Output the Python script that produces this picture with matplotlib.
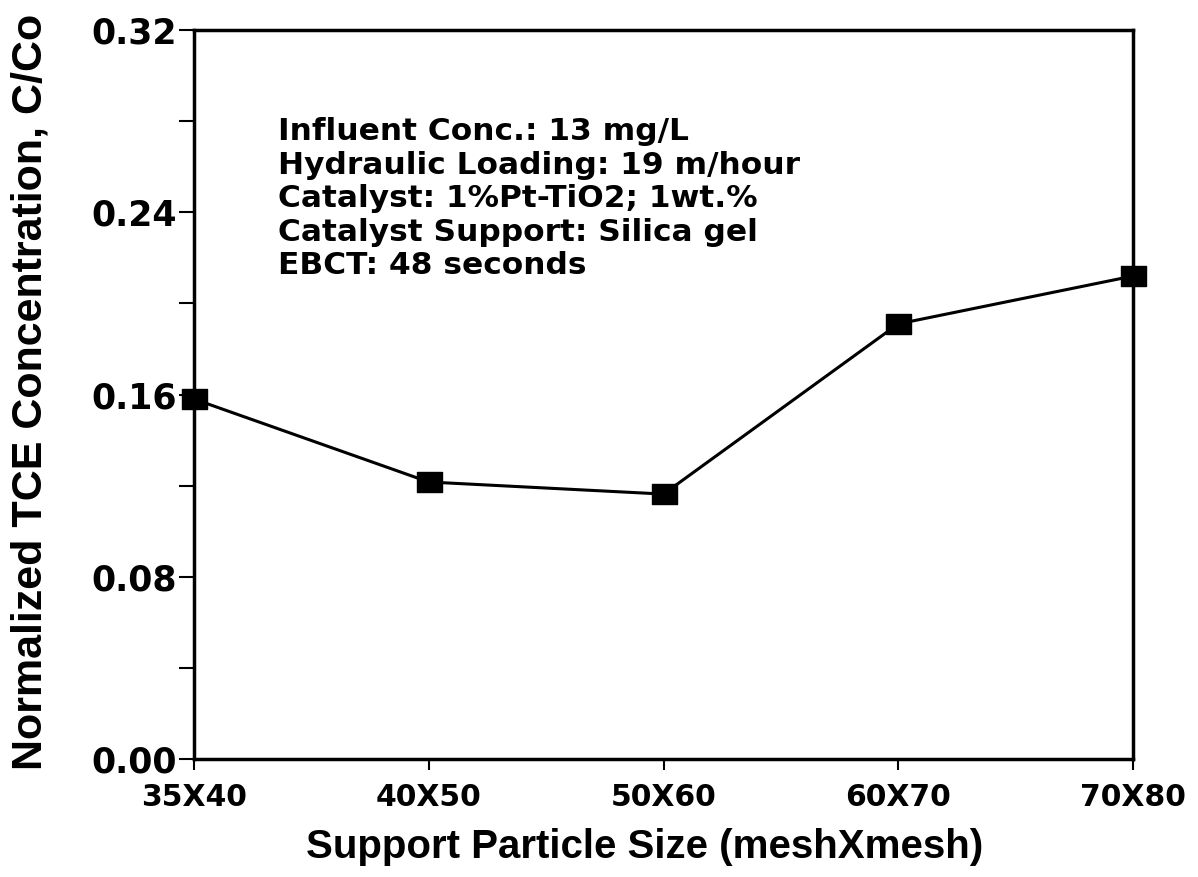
import matplotlib
matplotlib.use("Agg")
import matplotlib.pyplot as plt
from matplotlib.path import Path
import numpy as np

categories = ["35X40", "40X50", "50X60", "60X70", "70X80"]
values = [0.158, 0.1216, 0.1163, 0.191, 0.212]
major_ticks = [0.00, 0.08, 0.16, 0.24, 0.32]
minor_ticks = [0.04, 0.12, 0.20, 0.28]
annotation_lines = [
    "Influent Conc.: 13 mg/L",
    "Hydraulic Loading: 19 m/hour",
    "Catalyst: 1%Pt-TiO2; 1wt.%",
    "Catalyst Support: Silica gel",
    "EBCT: 48 seconds",
]

plt.rcParams['font.family'] = ['DejaVu Sans']
plt.rcParams['font.weight'] = 'bold'
label_font = ['Liberation Sans', 'DejaVu Sans']

fig = plt.figure(figsize=(11.98, 8.77), dpi=100)
ax = fig.add_axes([0.162, 0.1345, 0.7837, 0.8313])

rect = Path([(-1.3, -1), (1.3, -1), (1.3, 1), (-1.3, 1), (-1.3, -1)],
            [Path.MOVETO, Path.LINETO, Path.LINETO, Path.LINETO, Path.CLOSEPOLY])
x = np.arange(len(categories))
ax.plot(x, values, color='black', lw=2.2, marker=rect, markersize=18,
        markerfacecolor='black', markeredgecolor='black', clip_on=False, zorder=5)

ax.set_xlim(0, len(categories) - 1)
ax.set_ylim(0, 0.32)
ax.set_xticks(x)
ax.set_xticklabels(categories, fontsize=21.5, fontweight='bold')
ax.set_yticks(major_ticks)
ax.set_yticklabels([f"{v:.2f}" for v in major_ticks], fontsize=25, fontweight='bold')
ax.set_yticks(minor_ticks, minor=True)
ax.tick_params(axis='y', which='both', direction='out', length=11, width=1.5, pad=1.5)
ax.tick_params(axis='x', which='major', direction='out', length=8, width=1.5, pad=9)

for s in ax.spines.values():
    s.set_linewidth(2.5)

ax.set_xlabel("Support Particle Size (meshXmesh)", fontsize=29, fontweight='bold',
              family=label_font)
ax.set_ylabel("Normalized TCE Concentration, C/Co", fontsize=31, fontweight='bold',
              family=label_font)
ax.xaxis.set_label_coords(0.48, -0.094)
ax.yaxis.set_label_coords(-0.153, 0.503)

ax.text(0.0895, 0.88, "\n".join(annotation_lines), transform=ax.transAxes,
        fontsize=22.5, fontweight='bold', va='top', ha='left', linespacing=1.19)

fig.savefig("out.png", dpi=100)
